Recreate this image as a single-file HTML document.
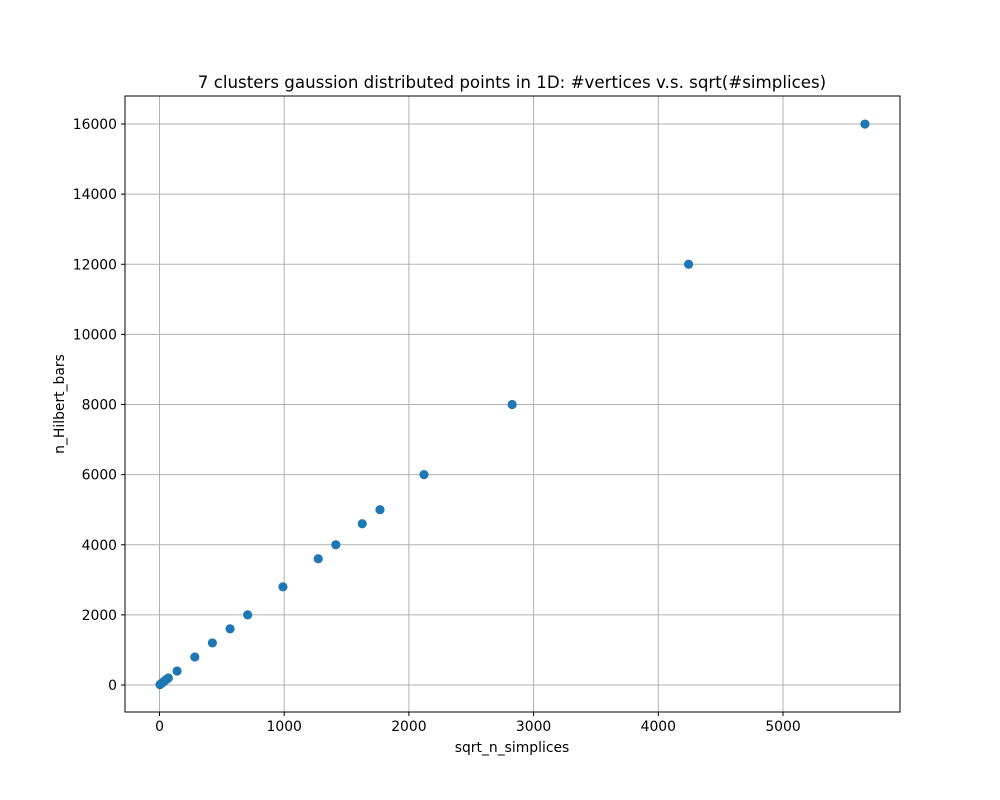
<!DOCTYPE html>
<html><head><meta charset="utf-8"><style>body{margin:0;background:#fff}svg{display:block;font-family:"DejaVu Sans","Liberation Sans",sans-serif}</style></head>
<body>
<svg id="chart" width="1000" height="800">
<rect width="1000" height="800" fill="#fff"/>
<g id="grid"></g><g id="pts"></g><g id="ticks"></g>
<rect x="125" y="96" width="775" height="616" fill="none" stroke="#000" stroke-width="1"/>
<text x="512" y="88" text-anchor="middle" font-size="16.67">7 clusters gaussion distributed points in 1D: #vertices v.s. sqrt(#simplices)</text>
<text x="512" y="752" text-anchor="middle" font-size="13.9">sqrt_n_simplices</text>
<text transform="translate(64,404) rotate(-90)" text-anchor="middle" font-size="13.9">n_Hilbert_bars</text>
</svg>
<script>
const yVals=[10,20,40,80,120,160,200,400,800,1200,1600,2000,2800,3600,4000,4600,5000,6000,8000,12000,16000];
const xVals=[4,7,14,28,42,57,71,141,283,424,566,707,990,1273,1414,1626,1768,2121,2828,4243,5657];
const xTicks=[0,1000,2000,3000,4000,5000];
const yTicks=[0,2000,4000,6000,8000,10000,12000,14000,16000];
const X=v=>159.5+v*0.1247, Y=v=>685-v*0.03506;
const NS="http://www.w3.org/2000/svg";
const g=document.getElementById('grid'),p=document.getElementById('pts'),t=document.getElementById('ticks');
function mk(tag,a,par){const e=document.createElementNS(NS,tag);for(const k in a)e.setAttribute(k,a[k]);par.appendChild(e);return e;}
xTicks.forEach(v=>{const x=X(v);
const l=mk('line',{x1:x,x2:x,y1:96,y2:712,stroke:'#b0b0b0','stroke-width':1},g);


mk('line',{x1:x,x2:x,y1:712,y2:716,stroke:'#000'},t);
const s=mk('text',{x:x,y:731,'text-anchor':'middle','font-size':13.9},t);s.textContent=v;

});
yTicks.forEach(v=>{const y=Y(v);
const l=mk('line',{x1:125,x2:900,y1:y,y2:y,stroke:'#b0b0b0','stroke-width':1},g);


mk('line',{x1:121,x2:125,y1:y,y2:y,stroke:'#000'},t);
const s=mk('text',{x:117,y:y+5,'text-anchor':'end','font-size':13.9},t);s.textContent=v;

});
xVals.forEach((v,i)=>{const c=mk('circle',{cx:X(v),cy:Y(yVals[i]),r:4.6,fill:'#1f77b4'},p);

});
</script>
</body></html>
